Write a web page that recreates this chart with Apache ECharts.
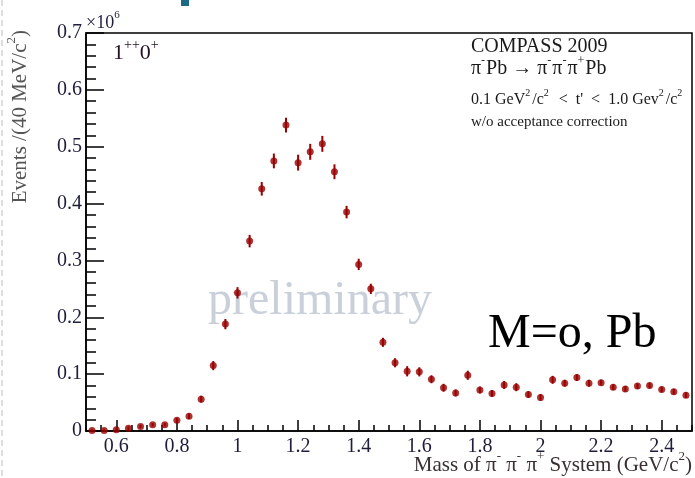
<!DOCTYPE html>
<html>
<head>
<meta charset="utf-8">
<script src="https://cdn.jsdelivr.net/npm/echarts@6/dist/echarts.min.js"></script>
<style>
  html, body { margin: 0; padding: 0; background: #fff; }
  #main { width: 695px; height: 478px; }
</style>
</head>
<body>
<div id="main"></div>
<script>
// bin centres (GeV/c^2), 40 MeV bins
const mass = [0.52, 0.56, 0.60, 0.64, 0.68, 0.72, 0.76, 0.80, 0.84, 0.88,
  0.92, 0.96, 1.00, 1.04, 1.08, 1.12, 1.16, 1.20, 1.24, 1.28,
  1.32, 1.36, 1.40, 1.44, 1.48, 1.52, 1.56, 1.60, 1.64, 1.68,
  1.72, 1.76, 1.80, 1.84, 1.88, 1.92, 1.96, 2.00, 2.04, 2.08,
  2.12, 2.16, 2.20, 2.24, 2.28, 2.32, 2.36, 2.40, 2.44, 2.48];
// events, x10^6
const events = [0.001, 0.001, 0.002, 0.005, 0.008, 0.011, 0.011, 0.019, 0.026, 0.056,
  0.115, 0.188, 0.243, 0.334, 0.426, 0.475, 0.538, 0.472, 0.491, 0.505,
  0.456, 0.385, 0.293, 0.250, 0.156, 0.120, 0.105, 0.104, 0.091, 0.076,
  0.067, 0.098, 0.072, 0.066, 0.081, 0.077, 0.064, 0.059, 0.090, 0.084,
  0.094, 0.084, 0.085, 0.077, 0.074, 0.079, 0.080, 0.073, 0.069, 0.063];
const errors = [0.002, 0.002, 0.002, 0.003, 0.003, 0.003, 0.003, 0.004, 0.005, 0.006,
  0.008, 0.009, 0.010, 0.011, 0.012, 0.013, 0.013, 0.014, 0.014, 0.014,
  0.013, 0.011, 0.010, 0.009, 0.008, 0.008, 0.009, 0.008, 0.007, 0.007,
  0.006, 0.008, 0.006, 0.006, 0.007, 0.007, 0.006, 0.006, 0.007, 0.006,
  0.006, 0.006, 0.005, 0.005, 0.005, 0.005, 0.005, 0.005, 0.005, 0.005];
const xTicks = [0.6, 0.8, 1.0, 1.2, 1.4, 1.6, 1.8, 2.0, 2.2, 2.4];

const SERIF = "'Liberation Serif', 'DejaVu Serif', serif";
const RED = '#990000';

// rich styles: n = normal text, s = superscript
function rich(size, color, supPad) {
  const small = Math.round(size * 0.62);
  return {
    n: { fontSize: size, fontFamily: SERIF, fill: color, lineHeight: size + 8 },
    s: { fontSize: small, fontFamily: SERIF, fill: color, lineHeight: small, verticalAlign: 'top',
      padding: [0, supPad || 0, 0, 0] }
  };
}

function label(x, y, text, size, color, supPad) {
  return {
    type: 'text', x: x, y: y, silent: true,
    style: {
      text: text, rich: rich(size, color, supPad),
      align: 'left', verticalAlign: 'middle',
      textAlign: 'left', textVerticalAlign: 'middle'
    }
  };
}

const chart = echarts.init(document.getElementById('main'));

const option = {
  animation: false,
  backgroundColor: '#fff',
  grid: {
    left: 86, right: 3, top: 33, bottom: 47,
    show: true, borderColor: '#000', borderWidth: 1.5, backgroundColor: 'transparent'
  },
  xAxis: [
    {
      type: 'value', min: 0.5, max: 2.5, position: 'bottom',
      axisLine: { show: true, lineStyle: { color: '#000', width: 1.5 } },
      axisTick: { show: true, inside: true, length: 11, customValues: xTicks, lineStyle: { color: '#000', width: 1.5 } },
      axisLabel: {
        customValues: xTicks, margin: 6,
        fontFamily: SERIF, fontSize: 20, color: '#1e1e3a',
        formatter: v => String(+(+v).toFixed(1))
      },
      splitLine: { show: false }
    },
    {
      type: 'value', min: 0.5, max: 2.5, interval: 0.05, position: 'bottom',
      axisLine: { show: false },
      axisTick: { show: true, inside: true, length: 6, lineStyle: { color: '#000', width: 1.5 } },
      axisLabel: { show: false },
      splitLine: { show: false }
    }
  ],
  yAxis: {
    type: 'value', min: 0, max: 0.7, interval: 0.1,
    axisLine: { show: true, lineStyle: { color: '#000', width: 1.5 } },
    axisTick: { show: true, inside: true, length: 18, lineStyle: { color: '#000', width: 1.5 } },
    minorTick: { show: true, splitNumber: 5, length: 10, lineStyle: { color: '#000', width: 1.5 } },
    axisLabel: { margin: 4, fontFamily: SERIF, fontSize: 20, color: '#1e1e3a' },
    splitLine: { show: false }
  },
  series: [
    {
      type: 'custom',
      clip: true,
      data: mass.map((m, i) => [m, events[i], errors[i]]),
      encode: { x: 0, y: 1 },
      renderItem: function (params, api) {
        const x = api.value(0), y = api.value(1), e = api.value(2);
        const lo = api.coord([x, y - e]);
        const hi = api.coord([x, y + e]);
        return {
          type: 'line',
          shape: { x1: lo[0], y1: lo[1], x2: hi[0], y2: hi[1] },
          style: { stroke: RED, lineWidth: 2 }
        };
      },
      z: 3
    },
    {
      type: 'scatter',
      data: mass.map((m, i) => [m, events[i]]),
      symbol: 'circle', symbolSize: 7,
      itemStyle: { color: RED },
      z: 4
    }
  ],
  graphic: [
    { type: 'line', silent: true, shape: { x1: 2, y1: 0, x2: 2, y2: 478 },
      style: { stroke: '#dedede', lineWidth: 2, lineDash: [6, 4] } },
    { type: 'rect', silent: true, shape: { x: 181, y: 0, width: 8, height: 6 }, style: { fill: '#1c6a86' } },
    // watermark
    { type: 'text', silent: true, x: 208, y: 325, z: 1,
      style: { text: 'preliminary', fontSize: 48, fontFamily: SERIF, fill: '#c9d0da',
        align: 'left', verticalAlign: 'bottom', textAlign: 'left', textVerticalAlign: 'bottom' } },
    label(86, 23, '{n|×10}{s|6}', 18, '#1e1e3a'),
    label(113, 53, '{n|1}{s|++}{n|0}{s|+}', 22, '#201020'),
    label(471, 47, '{n|COMPASS 2009}', 20, '#1a1a1a'),
    label(471, 69, '{n|π}{s|-}{n|Pb → π}{s|-}{n|π}{s|-}{n|π}{s|+}{n|Pb}', 20, '#1a1a1a', 1),
    label(471, 100, '{n|0.1 GeV}{s|2}{n|/c}{s|2}{n|\u2002<\u2002t\'\u2002<\u20021.0 Gev}{s|2}{n|/c}{s|2}', 16, '#1a1a1a', 2),
    label(471, 122, '{n|w/o acceptance correction}', 15, '#1a1a1a'),
    // y axis title, reads bottom to top, top end near the frame top
    {
      type: 'text', silent: true, x: 20, y: 30, rotation: Math.PI / 2,
      style: {
        text: '{n|Events /(40 MeV/c}{s|2}{n|)}', rich: rich(21, '#555555'),
        align: 'right', verticalAlign: 'middle', textAlign: 'right', textVerticalAlign: 'middle'
      }
    },
    // x axis title, right aligned to the frame
    {
      type: 'text', silent: true, x: 692, y: 465,
      style: {
        text: '{n|Mass of π}{s|-}{n| π}{s|-}{n| π}{s|+}{n| System (GeV/c}{s|2}{n|)}', rich: rich(21, '#3a3030'),
        align: 'right', verticalAlign: 'middle', textAlign: 'right', textVerticalAlign: 'middle'
      }
    },
    { type: 'text', silent: true, x: 488, y: 358,
      style: { text: 'M=o, Pb', fontSize: 48, fontFamily: SERIF, fill: '#000',
        align: 'left', verticalAlign: 'bottom', textAlign: 'left', textVerticalAlign: 'bottom' } }
  ]
};

chart.setOption(option);
</script>
</body>
</html>
